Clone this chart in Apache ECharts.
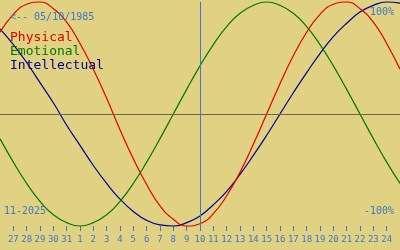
<!DOCTYPE html>
<html><head><meta charset="utf-8">
<script src="https://cdn.jsdelivr.net/npm/echarts@6/dist/echarts.min.js"></script>
<style>html,body{margin:0;padding:0;background:#e0d282}#c{width:400px;height:250px}</style>
</head><body><div id="c"></div>
<script>
const dates = ['10-26','10-27','10-28','10-29','10-30','10-31','11-01','11-02','11-03','11-04','11-05','11-06','11-07','11-08','11-09','11-10','11-11','11-12','11-13','11-14','11-15','11-16','11-17','11-18','11-19','11-20','11-21','11-22','11-23','11-24','11-25'];
const physical = [0.73,0.89,0.98,1.00,0.94,0.82,0.63,0.40,0.14,-0.14,-0.40,-0.63,-0.82,-0.94,-1.00,-0.98,-0.89,-0.73,-0.52,-0.27,0,0.27,0.52,0.73,0.89,0.98,1.00,0.94,0.82,0.63,0.40];
const emotional = [-0.22,-0.43,-0.62,-0.78,-0.90,-0.97,-1,-0.97,-0.90,-0.78,-0.62,-0.43,-0.22,0,0.22,0.43,0.62,0.78,0.90,0.97,1,0.97,0.90,0.78,0.62,0.43,0.22,0,-0.22,-0.43,-0.62];
const intellectual = [0.76,0.62,0.46,0.28,0.10,-0.10,-0.28,-0.46,-0.62,-0.76,-0.87,-0.95,-0.99,-1.00,-0.97,-0.91,-0.81,-0.69,-0.54,-0.37,-0.19,0,0.19,0.37,0.54,0.69,0.81,0.91,0.97,1.00,0.99];
const seriesNames = ['Physical','Emotional','Intellectual'];
const seriesColors = ['#e00000','#007800','#000090'];
const markerDate = '11-10';
const birthLabel = '<-- 05/10/1985';
const monthLabel = '11-2025';
const topLabel = '100%';
const bottomLabel = '-100%';

const blue = '#3a78c8';
const mono = 'DejaVu Sans Mono';
const chart = echarts.init(document.getElementById('c'), null, {renderer:'canvas'});
const lastIdx = dates.length - 1;
const inner = (i) => i > 0 && i < lastIdx;
const values = [physical, emotional, intellectual];
chart.setOption({
  backgroundColor: '#e0d282',
  animation: false,
  title: [
    {text: birthLabel, left: 10, top: 12, padding: 0, textStyle:{fontFamily:mono, fontSize:10, fontWeight:'normal', color:blue}},
    {text: topLabel, right: 6, top: 7, padding: 0, textStyle:{fontFamily:mono, fontSize:10, fontWeight:'normal', color:blue}},
    {text: bottomLabel, right: 6, top: 206, padding: 0, textStyle:{fontFamily:mono, fontSize:10, fontWeight:'normal', color:blue}},
    {text: monthLabel, left: 4, top: 206, padding: 0, textStyle:{fontFamily:mono, fontSize:10, fontWeight:'normal', color:blue}}
  ],
  legend: {
    orient:'vertical', left: 5, top: 30, padding: 0, icon:'none', itemWidth: 0, itemHeight: 15, itemGap: 0,
    selectedMode: false,
    textStyle:{fontFamily:mono, fontSize:13, padding:0},
    data: seriesNames.map((n,i)=>({name:n, textStyle:{color:seriesColors[i]}}))
  },
  grid: {left: 0, right: 0, top: 2, bottom: 24},
  xAxis: {
    type:'category', data: dates, boundaryGap:false,
    axisLine:{show:false, onZero:false},
    axisTick:{show:true, length:5, interval:(i)=>inner(i), lineStyle:{color:blue, width:1}},
    axisLabel:{interval:(i)=>inner(i), margin:9, fontFamily:mono, fontSize:9, color:blue,
      formatter:(v)=>String(parseInt(v.split('-')[1],10))},
    splitLine:{show:false}
  },
  yAxis: {type:'value', min:-1, max:1, show:false},
  series: values.map((d,i)=>({
    name: seriesNames[i], type:'line', data:d, smooth:true, symbol:'none', clip:false,
    lineStyle:{color:seriesColors[i], width:1.2}, itemStyle:{color:seriesColors[i]},
    z: 3 - i,
    markLine: i===0 ? {silent:true, symbol:'none', label:{show:false}, animation:false,
      data:[
        {yAxis:0, lineStyle:{color:'#6a6450', width:1, type:'solid'}},
        {xAxis:markerDate, lineStyle:{color:blue, width:1, type:'solid'}}
      ]} : undefined
  }))
});
</script></body></html>
